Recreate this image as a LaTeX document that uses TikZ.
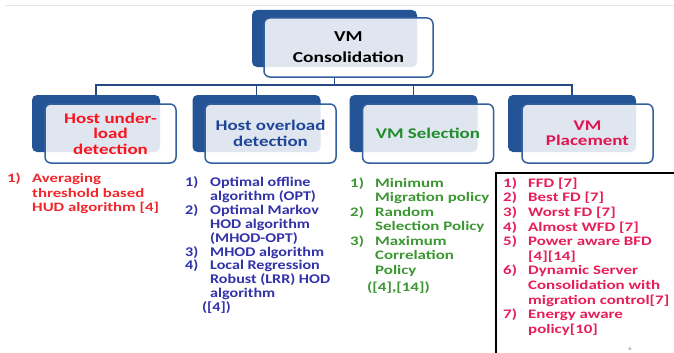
\documentclass[tikz,border=0pt]{standalone}
\usepackage{fontspec}
\setmainfont{Carlito}[FakeStretch=1.28]
\newfontfamily\fa{Carlito}[FakeStretch=1.31]
\newfontfamily\fb{Carlito}[FakeStretch=1.21]
\newfontfamily\fc{Carlito}[FakeStretch=1.30]
\newfontfamily\fd{Carlito}[FakeStretch=1.30]
\definecolor{dkblue}{RGB}{36,84,150}
\definecolor{frontline}{RGB}{52,96,160}
\definecolor{connc}{RGB}{40,72,130}
\definecolor{hred}{RGB}{250,20,30}
\definecolor{hblue}{RGB}{30,70,150}
\definecolor{hgreen}{RGB}{30,140,40}
\definecolor{hpink}{RGB}{225,20,80}
\definecolor{lred}{RGB}{240,40,45}
\definecolor{lblue}{RGB}{50,50,170}
\definecolor{lgreen}{RGB}{60,150,50}
\definecolor{lpink}{RGB}{230,30,90}
\newcommand{\nb}[1]{\makebox[25pt][l]{#1}}
\newcommand{\ind}{\hspace*{25pt}}
\tikzset{
  backbox/.style={draw=none, fill=dkblue, rounded corners=5pt, inner sep=0pt,
    minimum width=128pt, minimum height=57pt},
  frontbox/.style={draw=frontline, line width=1.5pt, fill=white, fill opacity=0.86,
    text opacity=1, rounded corners=6pt, inner sep=0pt, align=center,
    minimum width=131pt, minimum height=59pt},
  headfont/.style={font=\fontsize{14.8}{15.5}\selectfont\bfseries},
  conn/.style={draw=connc, line width=1.4pt},
  listnode/.style={inner sep=0pt, anchor=north west, align=left},
}
\begin{document}
\begin{tikzpicture}[x=1pt,y=-1pt]
\useasboundingbox (0,0) rectangle (674,353);
\clip (0,0) rectangle (674,353);
\fill[white] (0,0) rectangle (674,353);
% faint top rule
\draw[gray!20, line width=0.8pt] (5,5) -- (674,5);

% top box
\node[backbox, minimum width=165pt] (tback) at (334.5,38.5) {};
% child back boxes
\node[backbox] (b1) at (96,123.5) {};
\node[backbox] (b2) at (256.5,123.5) {};
\node[backbox] (b3) at (413.5,123.5) {};
\node[backbox] (b4) at (572,123.5) {};

\node[frontbox, minimum width=169pt, font=\fontsize{15.2}{21}\selectfont\bfseries]
  (tfront) at (348.5,47.5) {VM\\Consolidation};

\node[frontbox, headfont, text=hred] (f1) at (110.5,133.5) {Host under-\\load\\detection};
\node[frontbox, headfont, text=hblue] (f2) at (270.5,133.5) {Host overload\\detection};
\node[frontbox, headfont, text=hgreen] (f3) at (428,133.5) {VM Selection};
\node[frontbox, headfont, text=hpink] (f4) at (587.5,133.5) {VM\\Placement};

% connectors
\coordinate (bus) at (334.5,85);
\draw[conn] (tfront.south -| tback.center) -- (bus);
\draw[conn] (b1.north) |- (bus) -| (b4.north);
\draw[conn] (b2.north) -- (b2.north |- bus);
\draw[conn] (b3.north) -- (b3.north |- bus);

% lists
\node[listnode, text=lred, font=\fa\fontsize{12.8}{14.5}\selectfont\bfseries] (l1) at (7,173)
  {\nb{1)}Averaging\\ \ind threshold based\\ \ind HUD algorithm [4]};

\node[listnode, text=lblue, font=\fb\fontsize{13.3}{13.9}\selectfont\bfseries] (l2) at (185,176.5)
  {\nb{1)}Optimal offline\\ \ind algorithm (OPT)\\
   \nb{2)}Optimal Markov\\ \ind HOD algorithm\\ \ind (MHOD-OPT)\\
   \nb{3)}MHOD algorithm\\
   \nb{4)}Local Regression\\ \ind Robust (LRR) HOD\\ \ind algorithm\\
   \hspace*{17pt}([4])};

\node[listnode, text=lgreen, font=\fc\fontsize{13}{14.5}\selectfont\bfseries] (l3) at (350,177.5)
  {\nb{1)}Minimum\\ \ind Migration policy\\
   \nb{2)}Random\\ \ind Selection Policy\\
   \nb{3)}Maximum\\ \ind Correlation\\ \ind Policy\\[2.5pt]
   \hspace*{17pt}([4],[14])};

% bordered box on the right
\draw[black, line width=2.6pt] (496,173) rectangle (690,370);

\node[listnode, text=lpink, font=\fd\fontsize{13}{14.6}\selectfont\bfseries] (l4) at (503,177.5)
  {\nb{1)}FFD [7]\\ \nb{2)}Best FD [7]\\ \nb{3)}Worst FD [7]\\
   \nb{4)}Almost WFD [7]\\
   \nb{5)}Power aware BFD\\ \ind [4][14]\\
   \nb{6)}Dynamic Server\\ \ind Consolidation with\\ \ind migration control[7]\\
   \nb{7)}Energy aware\\ \ind policy[10]};

\node[inner sep=0pt, text=gray, font=\fontsize{5}{6}\selectfont] (pg) at (630,349) {6};
\end{tikzpicture}
\end{document}
